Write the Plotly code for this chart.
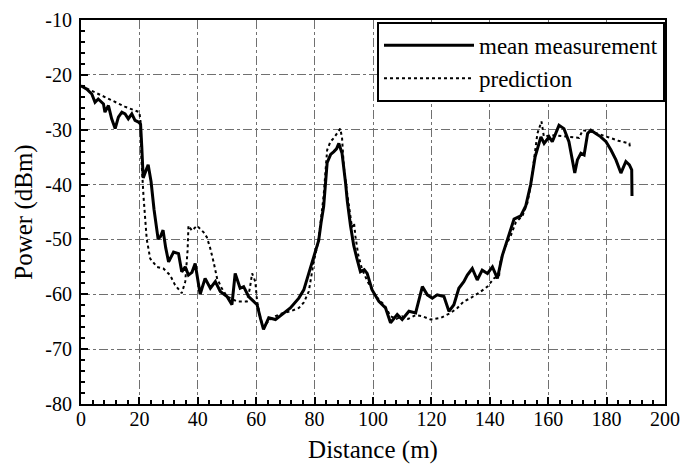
import plotly.graph_objects as go

# ---- data ----
meas_x = [0, 2, 3.7, 4.8, 5.9, 7.7, 8.2, 9.4, 10.5, 11.7, 12.8, 14, 15.1, 16.2, 17.4, 18.5, 19.7,
          20.4, 20.8, 21.3, 22.2, 23, 24, 25, 26.4, 27.2, 28.1, 29, 30, 31.7, 33.4, 34.5, 35.7,
          36.8, 38, 39.1, 40.8, 42.5, 44.3, 46, 47.7, 50, 51.7, 52.8, 54.5, 55.7, 57.4, 60.3,
          61.5, 62.5, 64.3, 66.6, 68.8, 71.7, 74.6, 76.3, 78, 79.7, 81.4, 82.2, 83.1, 84.3, 85.5,
          86.6, 87.5, 88.3, 89.4, 90.6, 91.2, 92.3, 93.4, 94.5, 95.7, 97, 98, 99.7, 102, 104.3,
          106, 108.3, 110, 112.3, 114.6, 116.9, 118.6, 120.3, 122, 124.3, 126, 127.7, 129.4,
          131.1, 132.3, 134, 135.7, 137.4, 139.2, 140.9, 142.6, 144.3, 146, 147.2, 148.3, 150.6,
          152.3, 154, 155.5, 157.5, 158.6, 160.3, 161.4, 163.7, 165.4, 167.1, 168.3, 169.1, 170,
          171.2, 172.3, 173.5, 174.6, 176.3, 178, 179.8, 181.5, 183.2, 184.9, 186.6, 187.8,
          188.6, 188.7]
meas_y = [-22.0, -22.6, -23.5, -25.0, -24.4, -25.3, -26.8, -25.6, -28.0, -29.8, -27.7, -26.8,
          -27.1, -28.0, -27.1, -28.3, -28.6, -29.0, -33.0, -38.8, -37.5, -36.4, -39.5, -44.5,
          -49.9, -49.5, -48.3, -51.5, -54.1, -52.3, -52.6, -55.9, -55.0, -56.5, -56.0, -54.4,
          -60.0, -57.1, -58.9, -57.7, -59.5, -60.4, -61.9, -56.2, -58.9, -58.6, -60.4, -61.9,
          -64.5, -66.4, -64.3, -64.6, -63.7, -62.5, -60.7, -59.2, -56.2, -53.2, -50.2, -47.0,
          -44.0, -36.0, -34.5, -34.0, -33.5, -32.5, -34.3, -39.7, -43.0, -47.5, -51.1, -53.5,
          -55.9, -55.5, -56.2, -59.2, -61.3, -62.5, -65.2, -63.7, -64.6, -63.1, -63.4, -58.6,
          -60.1, -60.7, -60.1, -60.4, -63.1, -61.9, -58.9, -57.7, -56.5, -55.3, -57.4, -55.6,
          -56.2, -55.0, -57.1, -52.9, -49.9, -48.1, -46.3, -45.7, -43.9, -40.0, -35.0, -31.3,
          -32.5, -31.3, -32.2, -29.2, -29.8, -32.2, -35.5, -37.9, -35.5, -34.3, -34.6, -30.7,
          -30.1, -30.7, -31.3, -32.2, -33.7, -35.5, -37.9, -35.8, -36.4, -37.3, -42.1]

pred_x = [0, 5, 10, 15, 20, 20.5, 20.7, 21.4, 22.5, 23.7, 26, 28.2, 30.5, 32.2, 34.5, 35.7, 36.5,
          36.8, 38, 39.7, 42, 43.1, 44.3, 45.4, 46.6, 48.2, 50, 53.4, 56.8, 57.8, 58.6, 59.7, 60.3,
          61.5, 62.5, 64.3, 66.6, 68.8, 71.7, 74.6, 76.3, 78, 79.7, 81.4, 83.1, 84.3, 85.4, 86.6,
          88.3, 88.8, 89.4, 90, 91, 92, 92.8, 93.5, 94, 95, 96.3, 98, 100, 102, 104, 106, 108,
          110, 112, 114.6, 116.9, 119.7, 123.2, 126.6, 128.9, 131.1, 133.4, 136.9, 139.2, 141.4,
          143.2, 143.7, 145.5, 147.2, 148.9, 151.2, 152.9, 154, 155.2, 156.3, 157.7, 158.5, 162,
          166, 170.6, 171.8, 175, 178, 181, 184, 187.8, 188]
pred_y = [-22.0, -23.2, -24.5, -25.8, -26.8, -29.0, -35.5, -42.1, -49.9, -53.5, -55.0, -55.3,
          -56.5, -58.3, -59.8, -57.7, -52.0, -47.5, -48.4, -47.5, -48.7, -49.6, -51.7, -54.1,
          -57.1, -58.9, -60.4, -61.3, -61.3, -59.0, -56.2, -57.7, -61.3, -64.5, -66.0, -64.8,
          -64.0, -63.5, -63.1, -62.5, -61.5, -59.5, -54.1, -50.0, -42.0, -33.7, -32.2, -31.5,
          -30.1, -29.8, -31.5, -36.7, -41.0, -44.5, -47.8, -47.0, -49.5, -53.0, -55.5, -57.5,
          -59.5, -61.0, -62.0, -64.0, -64.5, -64.0, -64.5, -63.8, -64.0, -64.6, -64.3, -63.4,
          -62.5, -61.3, -60.7, -59.5, -58.6, -57.1, -56.5, -53.8, -51.1, -49.3, -46.9, -45.7,
          -43.3, -40.2, -35.0, -30.7, -28.5, -31.2, -31.0, -31.2, -31.5, -30.1, -30.4, -30.9,
          -31.5, -32.0, -32.5, -33.2]

x_ticks = [0, 20, 40, 60, 80, 100, 120, 140, 160, 180, 200]
y_ticks = [-80, -70, -60, -50, -40, -30, -20, -10]

FONT = "Liberation Serif, Times New Roman, serif"

fig = go.Figure()
fig.add_trace(go.Scatter(x=meas_x, y=meas_y, mode="lines", name="mean measurement",
                         line=dict(color="black", width=3)))
fig.add_trace(go.Scatter(x=pred_x, y=pred_y, mode="lines", name="prediction",
                         line=dict(color="black", width=2, dash="dot")))

axis_common = dict(
    showline=True, linecolor="black", linewidth=2, mirror=True,
    ticks="inside", ticklen=7, tickwidth=1.5, tickcolor="black",
    showgrid=True, gridcolor="#707070", gridwidth=1, griddash="dashdot",
    zeroline=False, automargin=False, ticklabeloverflow="allow",
    tickfont=dict(family=FONT, size=20, color="black"),
)

fig.update_xaxes(range=[0, 200], tickvals=x_ticks, ticktext=[str(v) for v in x_ticks],
                 minor=dict(dtick=4, tick0=0, ticks="inside", ticklen=4, tickcolor="black",
                            showgrid=False),
                 ticklabelstandoff=-4,
                 title=dict(text="Distance (m)", font=dict(family=FONT, size=25, color="black"),
                            standoff=14),
                 **axis_common)
fig.update_yaxes(range=[-80, -10], tickvals=y_ticks, ticktext=[str(v) for v in y_ticks],
                 minor=dict(dtick=2, tick0=0, ticks="inside", ticklen=4, tickcolor="black",
                            showgrid=False),
                 ticklabelstandoff=3,
                 title=dict(text="Power (dBm)", font=dict(family=FONT, size=25, color="black"),
                            standoff=6),
                 **axis_common)

# the page body adds an 8 px margin, so the figure is sized/placed to compensate
fig.update_layout(
    width=673, height=456,
    margin=dict(l=73, r=16, t=12, b=60),
    plot_bgcolor="white", paper_bgcolor="white",
    font=dict(family=FONT, color="black"),
    legend=dict(x=1, xanchor="right", y=0.995, yanchor="top",
                bgcolor="white", bordercolor="black", borderwidth=2,
                font=dict(family=FONT, size=23, color="black"),
                tracegroupgap=0, itemwidth=90),
)

fig.write_html("out.html")
